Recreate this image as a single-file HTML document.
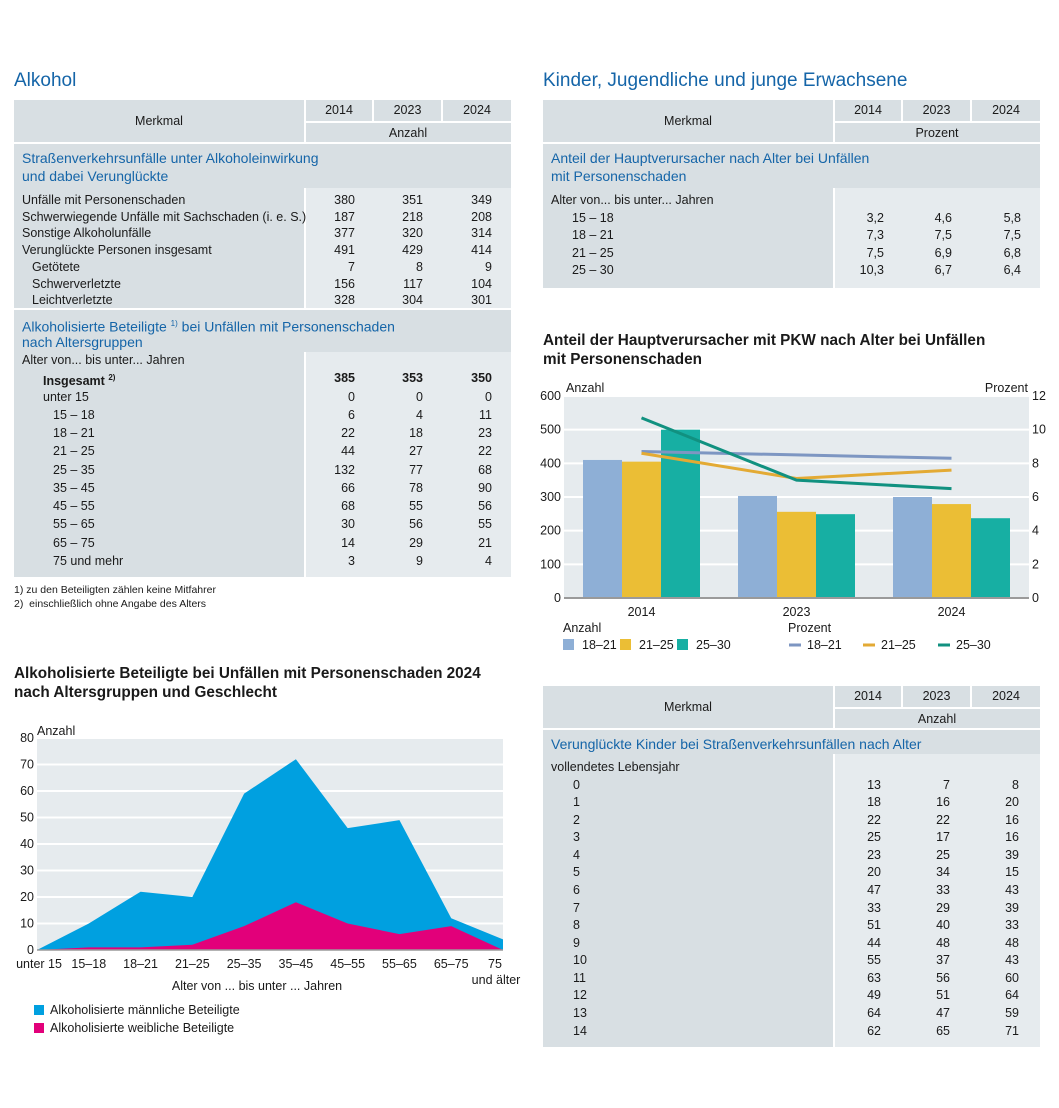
<!DOCTYPE html>
<html><head><meta charset="utf-8">
<style>
body{margin:0;background:#fff;}
#page{position:relative;width:1059px;height:1108px;overflow:hidden;font-family:"Liberation Sans",sans-serif;color:#1a1a1a;}
.b{position:absolute;}
.t{position:absolute;white-space:nowrap;font-size:12.5px;line-height:16px;letter-spacing:0px;}
.blue{color:#1565a8;}
svg text{font-family:"Liberation Sans",sans-serif;}
</style></head>
<body>
<div id="page">
<div class="t blue" style="left:14px;top:69px;font-size:19px;line-height:24px;">Alkohol</div>
<div class="t blue" style="left:543px;top:69px;font-size:19px;line-height:24px;">Kinder, Jugendliche und junge Erwachsene</div>
<div class="t" style="left:543px;top:331px;font-size:15.3px;line-height:19px;font-weight:bold;">Anteil der Hauptverursacher mit PKW nach Alter bei Unfällen<br>mit Personenschaden</div>
<div class="t" style="left:14px;top:664px;font-size:15.3px;line-height:19px;font-weight:bold;">Alkoholisierte Beteiligte bei Unfällen mit Personenschaden 2024<br>nach Altersgruppen und Geschlecht</div>
<div class="t" style="left:14px;top:583px;font-size:10.5px;line-height:14px;">1) zu den Beteiligten zählen keine Mitfahrer<br>2)&nbsp; einschließlich ohne Angabe des Alters</div>
<svg id="charts" class="b" style="left:0;top:0" width="1059" height="1108"></svg>
</div>
<script>
// ---------- chart data ----------
const barYears = ["2014","2023","2024"];
const barSeriesNames = ["18–21","21–25","25–30"];
const bars1821 = [410, 303, 300];
const bars2125 = [405, 256, 279];
const bars2530 = [500, 249, 237];
const pct1821 = [8.7, 8.5, 8.3];
const pct2125 = [8.6, 7.1, 7.6];
const pct2530 = [10.7, 7.0, 6.5];
const barLeftTicks = [0,100,200,300,400,500,600];
const barRightTicks = [0,2,4,6,8,10,12];

const areaCats = ["unter 15","15–18","18–21","21–25","25–35","35–45","45–55","55–65","65–75","75"];
const areaMale = [0,10,22,20,59,72,46,49,12,4];
const areaFemale = [0,1,1,2,9,18,10,6,9,0];
const areaTicks = [0,10,20,30,40,50,60,70,80];

const page = document.getElementById('page');
const svg = document.getElementById('charts');
const NS = "http://www.w3.org/2000/svg";
function S(tag, attrs){const e=document.createElementNS(NS,tag);for(const k in attrs)e.setAttribute(k,attrs[k]);svg.appendChild(e);return e;}
function T(x,y,s,anchor,size){const e=S('text',{x:x,y:y,'text-anchor':anchor||'start','font-size':size||12.5,fill:'#1a1a1a'});e.textContent=s;return e;}

// ---------- bar chart ----------
const bx0=564,bx1=1029,by0=598,by1=396;
const yL=v=>by0-(v/600)*(by0-by1);
const yR=v=>by0-(v/12)*(by0-by1);
const gw=(bx1-bx0)/3;
const gc=i=>bx0+gw*(i+0.5);
let e=S('rect',{x:bx0,y:by1,width:bx1-bx0,height:by0-by1,fill:'#e6ebee'});


barLeftTicks.forEach((v,i)=>{
  if(i>0){let g=S('line',{x1:bx0,x2:bx1,y1:yL(v),y2:yL(v),stroke:'#fff','stroke-width':2});}
  let t=T(bx0-3,yL(v)+4,String(v),'end');
  
  
});
barRightTicks.forEach(v=>{
  let t=T(bx1+3,yR(v)+4,String(v),'start');
  
  
});
const barCols=['#8eafd6','#ebbe35','#17afa3'];
const lineCols=['#7d96c2','#e3aa34','#119180'];
[bars1821,bars2125,bars2530].forEach((arr,s)=>{
  arr.forEach((v,i)=>{
    let r=S('rect',{x:gc(i)-58.5+s*39,y:yL(v),width:39,height:by0-yL(v),fill:barCols[s]});
    
    
  });
});
e=S('line',{x1:bx0,x2:bx1,y1:by0,y2:by0,stroke:'#9a9a9a','stroke-width':2});


[pct1821,pct2125,pct2530].forEach((arr,s)=>{
  let p=S('polyline',{points:arr.map((v,i)=>gc(i)+','+yR(v)).join(' '),fill:'none',stroke:lineCols[s],'stroke-width':3});
  
  
});
barYears.forEach((y,i)=>{let t=T(gc(i),by0+18,y,'middle');});
e=T(566,392,'Anzahl');
e=T(1028,392,'Prozent','end');
e=T(563,632,'Anzahl');
e=T(788,632,'Prozent');
[563,620,677].forEach((x,s)=>{
  let r=S('rect',{x:x,y:639,width:11,height:11,fill:barCols[s]});
  
  
  let t=T(x+19,649,barSeriesNames[s]);
  
  
});
[789,863,938].forEach((x,s)=>{
  let l=S('line',{x1:x,x2:x+12,y1:645,y2:645,stroke:lineCols[s],'stroke-width':3});
  
  
  let t=T(x+18,649,barSeriesNames[s]);
  
  
});

// ---------- area chart ----------
const ax0=37,ax1=503,ay0=950,ay1=738;
const ax=i=>ax0+i*(ax1-ax0)/(areaCats.length-1);
const ay=v=>ay0-(v/80)*(ay0-ay1);
e=S('rect',{x:ax0,y:ay1,width:ax1-ax0,height:ay0-ay1,fill:'#e6ebee'});


areaTicks.forEach((v,i)=>{
  if(i>0){let g=S('line',{x1:ax0,x2:ax1,y1:ay(v),y2:ay(v),stroke:'#fff','stroke-width':2});}
  let t=T(ax0-3,ay(v)+4,String(v),'end');
  
  
});
function areaPts(arr){return arr.map((v,i)=>ax(i)+','+ay(v)).join(' ')+' '+ax(arr.length-1)+','+ay0+' '+ax(0)+','+ay0;}
e=S('polygon',{points:areaPts(areaMale),fill:'#00a0e0'});


e=S('polygon',{points:areaPts(areaFemale),fill:'#e2007a'});


e=S('line',{x1:ax0,x2:ax1,y1:ay0,y2:ay0,stroke:'#9a9a9a','stroke-width':1.5});


areaCats.forEach((c,i)=>{
  let x=ax(i); if(i===0)x=ax0+2; if(i===areaCats.length-1)x=ax1-8;
  let t=T(x,968,c,'middle');
  
  
});
e=T(496,984,'und älter','middle');
e=T(37,735,'Anzahl');
e=T(257,990,'Alter von ... bis unter ... Jahren','middle');
e=S('rect',{x:34,y:1005,width:10,height:10,fill:'#00a0e0'});
e=T(50,1014,'Alkoholisierte männliche Beteiligte');
e=S('rect',{x:34,y:1023,width:10,height:10,fill:'#e2007a'});
e=T(50,1032,'Alkoholisierte weibliche Beteiligte');

// ---------- tables ----------
const HD='#d8dfe3', BD='#e6ebee';
function box(x,y,w,h,c,name){
  const d=document.createElement('div');
  d.className='b';
  d.style.cssText=`left:${x}px;top:${y}px;width:${w}px;height:${h}px;background:${c}`;
  
  
  page.insertBefore(d,svg);
}
function txt(x,cy,s,name,opt){
  opt=opt||{};
  const d=document.createElement('div');
  d.className='t'+(opt.blue?' blue':'');
  d.innerHTML=s;
  let st=`top:${cy-8}px;`;
  if(opt.right!==undefined){st+=`left:${opt.right-100}px;width:100px;text-align:right;`;}
  else if(opt.center!==undefined){st+=`left:${opt.center-150}px;width:300px;text-align:center;`;}
  else st+=`left:${x}px;`;
  if(opt.size)st+=`font-size:${opt.size}px;`;
  if(opt.bold)st+='font-weight:bold;';
  d.style.cssText=st;
  
  
  page.appendChild(d);
}
function header(x,y,unit){
  box(x,y,290,42,HD,'merkmal-header');
  txt(0,y+21,'Merkmal','merkmal-label',{center:x+145});
  const cx=[x+292,x+360,x+429], cw=[66,67,68];
  ['2014','2023','2024'].forEach((yr,i)=>{box(cx[i],y,cw[i],21,HD,'year-header');txt(0,y+10,yr,'year-label',{center:cx[i]+cw[i]/2});});
  box(x+292,y+23,205,19,HD,'unit-header');
  txt(0,y+33,unit,'unit-label',{center:x+394});
}
function section(x,y,h,lines){
  box(x,y,497,h,HD,'section-header');
  lines.forEach((l,i)=>txt(x+8,y+14+i*18,l,'section-title',{blue:true,size:14}));
}
function body(x,y,h){box(x,y,290,h,HD,'row-label-column');box(x+292,y,205,h,BD,'values-column');}
function rows(x,rights,list,y0,dy){
  list.forEach((r,i)=>{
    const cy=y0+i*dy;
    txt(x+8+r[0],cy,r[1],'row-label',{bold:r[3]});
    if(r[2])r[2].forEach((v,j)=>txt(0,cy,v,'row-value',{right:rights[j],bold:r[3]}));
  });
}
// left table
header(14,100,'Anzahl');
section(14,144,44,['Straßenverkehrsunfälle unter Alkoholeinwirkung','und dabei Verunglückte']);
body(14,188,120);
const R1=[355,423,492];
rows(14,R1,[
 [0,'Unfälle mit Personenschaden',['380','351','349']],
 [0,'Schwerwiegende Unfälle mit Sachschaden (i. e. S.)',['187','218','208']],
 [0,'Sonstige Alkoholunfälle',['377','320','314']],
 [0,'Verunglückte Personen insgesamt',['491','429','414']],
 [10,'Getötete',['7','8','9']],
 [10,'Schwerverletzte',['156','117','104']],
 [10,'Leichtverletzte',['328','304','301']]
],200,16.7);
section(14,310,42,['Alkoholisierte Beteiligte <sup style="font-size:8px">1)</sup> bei Unfällen mit Personenschaden','nach Altersgruppen']);
body(14,352,225);
rows(14,R1,[
 [0,'Alter von... bis unter... Jahren',null],
 [21,'Insgesamt <sup style="font-size:8px">2)</sup>',['385','353','350'],true],
 [21,'unter 15',['0','0','0']],
 [31,'15 – 18',['6','4','11']],
 [31,'18 – 21',['22','18','23']],
 [31,'21 – 25',['44','27','22']],
 [31,'25 – 35',['132','77','68']],
 [31,'35 – 45',['66','78','90']],
 [31,'45 – 55',['68','55','56']],
 [31,'55 – 65',['30','56','55']],
 [31,'65 – 75',['14','29','21']],
 [31,'75 und mehr',['3','9','4']]
],360,18.25);
// right top table
header(543,100,'Prozent');
section(543,144,44,['Anteil der Hauptverursacher nach Alter bei Unfällen','mit Personenschaden']);
body(543,188,100);
const R2=[884,952,1021];
rows(543,R2,[
 [0,'Alter von... bis unter... Jahren',null],
 [21,'15 – 18',['3,2','4,6','5,8']],
 [21,'18 – 21',['7,3','7,5','7,5']],
 [21,'21 – 25',['7,5','6,9','6,8']],
 [21,'25 – 30',['10,3','6,7','6,4']]
],200,17.6);
// right bottom table
header(543,686,'Anzahl');
section(543,730,24,['Verunglückte Kinder bei Straßenverkehrsunfällen nach Alter']);
body(543,754,293);
const R3=[881,950,1019];
const kids=[[13,7,8],[18,16,20],[22,22,16],[25,17,16],[23,25,39],[20,34,15],[47,33,43],[33,29,39],[51,40,33],[44,48,48],[55,37,43],[63,56,60],[49,51,64],[64,47,59],[62,65,71]];
rows(543,R3,[[0,'vollendetes Lebensjahr',null]].concat(kids.map((k,i)=>[22,String(i),k.map(String)])),767,17.57);
</script>
</body></html>
